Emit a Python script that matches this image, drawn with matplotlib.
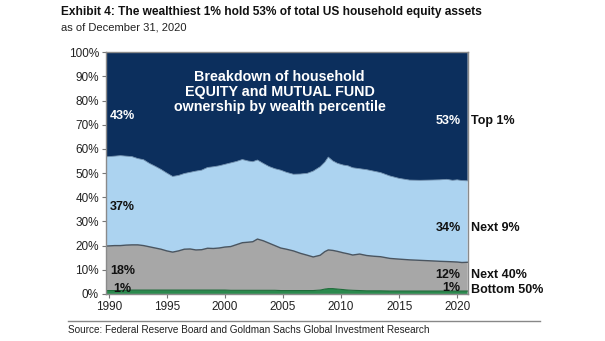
import matplotlib
matplotlib.use("Agg")
import matplotlib.pyplot as plt
from matplotlib.lines import Line2D

plt.rcParams['font.family'] = ['Liberation Sans', 'DejaVu Sans']

# Share of household equity & mutual fund holdings by wealth group (%)
years = [1989.75, 1990.5, 1991.0, 1991.5, 1992.0, 1992.5, 1993.0, 1993.5, 1994.0, 1994.5,
         1995.0, 1995.5, 1996.0, 1996.5, 1997.0, 1997.5, 1998.0, 1998.5, 1999.0, 1999.5,
         2000.0, 2000.5, 2001.0, 2001.5, 2002.0, 2002.4, 2002.8, 2003.3, 2003.8, 2004.3,
         2004.8, 2005.3, 2005.9, 2006.5, 2007.1, 2007.6, 2008.2, 2008.6, 2008.9, 2009.3,
         2009.7, 2010.2, 2010.6, 2011.0, 2011.6, 2012.2, 2012.8, 2013.4, 2014.2, 2015.0,
         2015.9, 2016.8, 2017.7, 2018.5, 2019.1, 2019.6, 2020.0, 2020.4, 2020.9]

bottom_50 = [1.4, 1.4, 1.4, 1.5, 1.6, 1.6, 1.6, 1.6, 1.6, 1.6,
             1.6, 1.6, 1.6, 1.6, 1.6, 1.6, 1.6, 1.6, 1.6, 1.6,
             1.6, 1.5, 1.5, 1.5, 1.5, 1.5, 1.5, 1.5, 1.5, 1.5,
             1.4, 1.4, 1.4, 1.4, 1.4, 1.4, 1.6, 2.0, 2.2, 2.2,
             2.0, 1.8, 1.6, 1.5, 1.4, 1.3, 1.3, 1.3, 1.2, 1.2,
             1.2, 1.2, 1.2, 1.2, 1.2, 1.2, 1.2, 1.2, 1.2]

next_40 = [18.4, 18.6, 18.6, 18.7, 18.7, 18.7, 18.4, 17.9, 17.4, 16.9,
           16.2, 15.7, 16.2, 16.9, 17.0, 16.6, 16.7, 17.3, 17.2, 17.4,
           17.8, 18.1, 18.9, 19.7, 19.9, 20.1, 21.2, 20.5, 19.5, 18.5,
           17.6, 17.1, 16.4, 15.4, 14.6, 13.9, 14.4, 15.5, 16.0, 15.8,
           15.6, 15.2, 15.0, 14.6, 15.1, 14.6, 14.3, 14.1, 13.5, 13.2,
           12.9, 12.7, 12.5, 12.3, 12.2, 12.1, 12.0, 11.8, 11.9]

next_9 = [36.9, 37.0, 37.2, 36.8, 36.5, 35.7, 35.5, 34.5, 33.8, 33.0,
          32.2, 31.3, 31.2, 31.3, 31.7, 32.6, 32.9, 33.4, 33.8, 34.0,
          34.2, 34.6, 34.4, 34.4, 33.6, 33.1, 32.7, 32.0, 31.7, 31.8,
          32.2, 31.8, 31.7, 32.8, 33.9, 35.5, 36.6, 37.0, 38.4, 37.0,
          36.4, 36.3, 36.4, 36.1, 35.3, 35.5, 35.2, 34.8, 34.1, 33.4,
          33.0, 33.1, 33.4, 33.7, 34.0, 33.7, 34.0, 33.9, 33.7]

top_1 = [43.3, 43.0, 42.8, 43.0, 43.2, 44.0, 44.5, 46.0, 47.2, 48.5,
         50.0, 51.4, 51.0, 50.2, 49.7, 49.2, 48.8, 47.7, 47.4, 47.0,
         46.4, 45.8, 45.2, 44.4, 45.0, 45.3, 44.6, 46.0, 47.3, 48.2,
         48.8, 49.7, 50.5, 50.4, 50.1, 49.2, 47.4, 45.5, 43.4, 45.0,
         46.0, 46.7, 47.0, 47.8, 48.2, 48.6, 49.2, 49.8, 51.2, 52.2,
         52.9, 53.0, 52.9, 52.8, 52.6, 53.0, 52.8, 53.1, 53.2]

group_names = ["Bottom 50%", "Next 40%", "Next 9%", "Top 1%"]
x_ticks = [1990, 1995, 2000, 2005, 2010, 2015, 2020]
y_ticks = [0, 10, 20, 30, 40, 50, 60, 70, 80, 90, 100]

c_green = "#2b8a4e"
c_gray = "#a7a7a7"
c_light = "#acd3f0"
c_navy = "#0c2f5d"

fig = plt.figure(figsize=(6.05, 3.41), dpi=100)
ax = fig.add_axes([0.175, 0.138, 0.598, 0.709])

ax.stackplot(years, bottom_50, next_40, next_9, top_1,
             colors=[c_green, c_gray, c_light, c_navy], linewidth=0)

# darker edges along the stacked boundaries
cum1 = list(bottom_50)
cum2 = [b + n for b, n in zip(bottom_50, next_40)]
cum3 = [b + n + m for b, n, m in zip(bottom_50, next_40, next_9)]
ax.plot(years, cum1, color="#1f6b3a", lw=0.8)
ax.plot(years, cum2, color="#4a5560", lw=1.0)
ax.plot(years, cum3, color="#6f8fae", lw=0.6)

ax.set_xlim(years[0], years[-1])
ax.set_ylim(0, 100)
ax.set_xticks(x_ticks)
ax.set_xticklabels([str(y) for y in x_ticks], fontsize=8.5, color="#222222")
ax.set_yticks(y_ticks)
ax.set_yticklabels([f"{v}%" for v in y_ticks], fontsize=8.5, color="#222222")
ax.tick_params(axis="both", direction="out", length=3, width=0.8, color="#777777", pad=2)
for s in ax.spines.values():
    s.set_color("#8a8a8a")
    s.set_linewidth(1.0)

# inset heading inside the chart
ax.text(0.48, 0.835, "Breakdown of household\nEQUITY and MUTUAL FUND\nownership by wealth percentile",
        transform=ax.transAxes, ha="center", va="center", color="white",
        fontsize=10.3, fontweight="bold", linespacing=1.12)

lab = dict(fontsize=9, fontweight="bold", va="center")
ax.text(1990.1, 73.5, f"{round(top_1[0])}%", color="white", ha="left", **lab)
ax.text(1990.1, 36.0, f"{round(next_9[0])}%", color="#111111", ha="left", **lab)
ax.text(1990.1, 9.5, f"{round(next_40[0])}%", color="#111111", ha="left", **lab)
ax.text(1990.4, 2.0, f"{round(bottom_50[0])}%", color="#111111", ha="left", **lab)

ax.text(2020.3, 71.5, f"{round(top_1[-1])}%", color="white", ha="right", **lab)
ax.text(2020.3, 27.3, f"{round(next_9[-1])}%", color="#111111", ha="right", **lab)
ax.text(2020.3, 7.9, f"{round(next_40[-1])}%", color="#111111", ha="right", **lab)
ax.text(2020.3, 2.3, f"{round(bottom_50[-1])}%", color="#111111", ha="right", **lab)

# group names to the right of the plot
right = dict(fontsize=9, fontweight="bold", va="center", ha="left", color="#111111",
             transform=ax.get_yaxis_transform(), clip_on=False)
ax.text(1.01, 71.5, group_names[3], **right)
ax.text(1.01, 27.3, group_names[2], **right)
ax.text(1.01, 7.9, group_names[1], **right)
ax.text(1.01, 1.8, group_names[0], **right)

fig.text(0.101, 0.965, "Exhibit 4: The wealthiest 1% hold 53% of total US household equity assets",
         fontsize=8.6, fontweight="bold", va="center", ha="left", color="#111111")
fig.text(0.101, 0.918, "as of December 31, 2020", fontsize=8, va="center", ha="left", color="#222222")

fig.add_artist(Line2D([0.112, 0.893], [0.058, 0.058], transform=fig.transFigure,
                      color="#888888", lw=1.0))
fig.text(0.112, 0.032, "Source: Federal Reserve Board and Goldman Sachs Global Investment Research",
         fontsize=7.2, va="center", ha="left", color="#222222")

fig.savefig("out.png", dpi=100, facecolor="white")
